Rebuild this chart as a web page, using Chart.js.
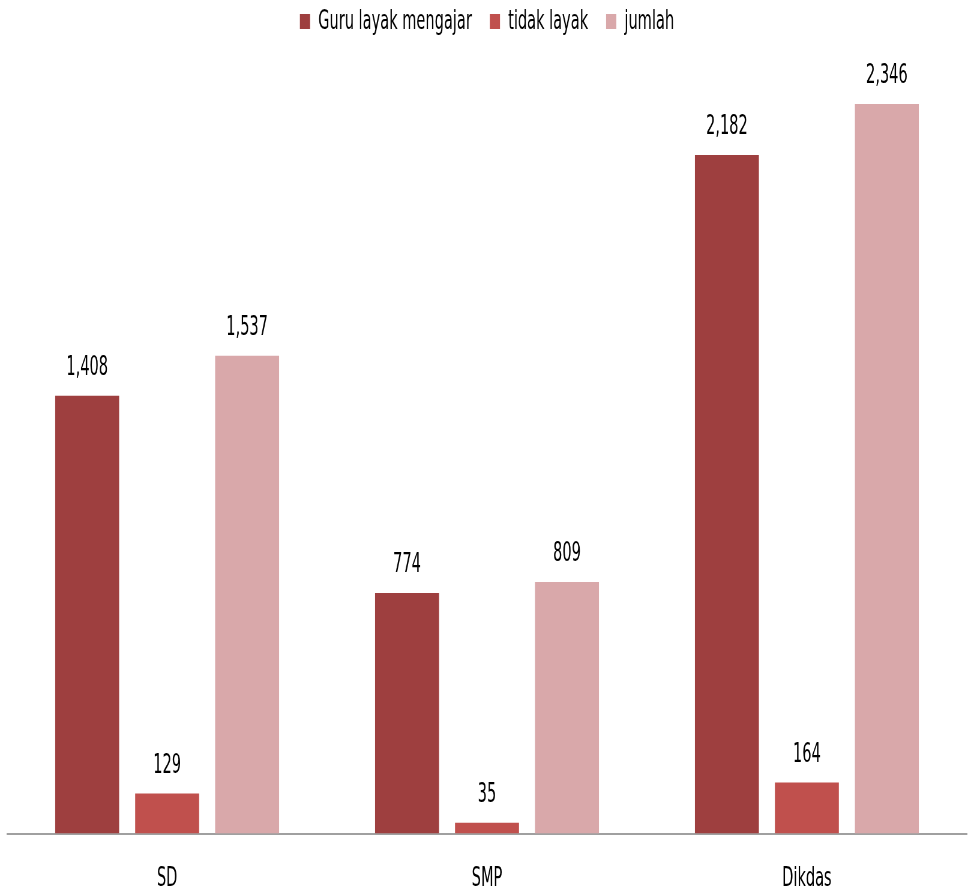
<!DOCTYPE html>
<html>
<head>
<meta charset="utf-8">
<script src="https://cdn.jsdelivr.net/npm/chart.js@4/dist/chart.umd.min.js"></script>
<style>
  html, body { margin: 0; padding: 0; background: #fff; overflow: hidden; }
</style>
</head>
<body>
<!-- the original picture is squeezed sideways, so the canvas is drawn wide and shown at 971px -->
<canvas id="guruChart" width="1618" height="889" style="display:block;width:971px;height:889px"></canvas>
<script>
var categories = ['SD', 'SMP', 'Dikdas'];
var guruLayak = [1408, 774, 2182];
var tidakLayak = [129, 35, 164];
var jumlah = [1537, 809, 2346];
var fontFamily = "'DejaVu Sans', sans-serif";
var fontStretch = 'condensed';

// draws the number above each bar
var valueLabels = {
    id: 'valueLabels',
    afterDatasetsDraw: function(chart) {
        var ctx = chart.ctx;
        ctx.save();
        ctx.font = fontStretch + ' 27px ' + fontFamily;
        ctx.fillStyle = '#000';
        ctx.textAlign = 'center';
        ctx.textBaseline = 'middle';
        chart.data.datasets.forEach(function(ds, i) {
            chart.getDatasetMeta(i).data.forEach(function(bar, j) {
                ctx.fillText(ds.data[j].toLocaleString('en-US'), bar.x, bar.y - 28);
            });
        });
        ctx.restore();
    }
};

new Chart(document.getElementById('guruChart').getContext('2d'), {
    type: 'bar',
    data: {
        labels: categories,
        datasets: [{
            label: 'Guru layak mengajar',
            data: guruLayak,
            backgroundColor: '#9E3F3F'
        }, {
            label: 'tidak layak',
            data: tidakLayak,
            backgroundColor: '#C0504D'
        }, {
            label: 'jumlah',
            data: jumlah,
            backgroundColor: '#D9A8AA'
        }]
    },
    options: {
        responsive: false,
        devicePixelRatio: 1,
        animation: false,
        categoryPercentage: 0.75,
        barPercentage: 0.8,
        layout: {
            padding: { top: -22, left: 12, right: 7, bottom: -35 }
        },
        plugins: {
            legend: {
                position: 'top',
                labels: {
                    boxWidth: 17,
                    boxHeight: 15,
                    padding: 30,
                    color: '#000',
                    font: { family: fontFamily, weight: fontStretch, size: 27 }
                }
            },
            tooltip: { enabled: false }
        },
        scales: {
            x: {
                grid: { display: false, drawTicks: false },
                border: { color: '#A0A0A0', width: 2 },
                ticks: {
                    padding: 29,
                    color: '#000',
                    font: { family: fontFamily, weight: fontStretch, size: 27 }
                }
            },
            y: {
                display: false,
                min: 0,
                max: 2536
            }
        }
    },
    plugins: [valueLabels]
});
</script>
</body>
</html>
